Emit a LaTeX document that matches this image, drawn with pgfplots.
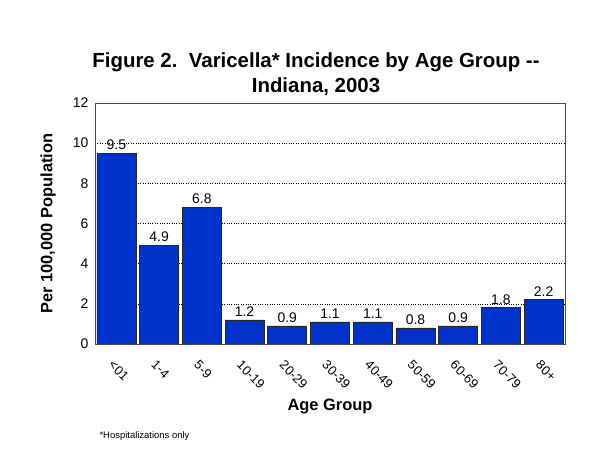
\documentclass[border=0pt]{standalone}
\usepackage{fontspec}
\setmainfont{Liberation Sans}
\usepackage{pgfplots}
\pgfplotsset{compat=1.18}
\definecolor{barblue}{RGB}{0,51,204}
\begin{document}
\begin{tikzpicture}[x=1bp,y=1bp]
\path[use as bounding box, fill=white] (0,0) rectangle (600,450);
\begin{axis}[
  at={(95bp,106bp)}, anchor=south west,
  scale only axis, width=470bp, height=241bp,
  xmin=-0.5, xmax=10.5, ymin=0, ymax=12,
  ytick={0,2,...,12},
  xtick={0,...,10},
  xticklabels={<01,1-4,5-9,10-19,20-29,30-39,40-49,50-59,60-69,70-79,80+},
  xticklabel style={rotate=-45, anchor=north west, font=\fontsize{13}{15}\selectfont, xshift=6bp, yshift=-9bp},
  yticklabel style={font=\fontsize{14}{16}\selectfont, xshift=-3bp},
  /pgf/number format/assume math mode=true,
  major tick length=0pt,
  ymajorgrids, grid style={black, dotted, line width=0.6pt},
  axis line style={black!70, line width=0.8pt},
  ybar, bar width=39bp, bar shift=0pt,
  nodes near coords,
  nodes near coords style={font=\fontsize{14}{16}\selectfont, black, /pgf/number format/fixed, /pgf/number format/fixed zerofill, /pgf/number format/precision=1},
  ylabel={\bfseries Per 100,000 Population},
  every axis y label/.style={at={(axis description cs:0,0.5)}, xshift=-47bp, rotate=90, anchor=center, font=\fontsize{16.5}{19}\selectfont},
  xlabel={\bfseries Age Group},
  every axis x label/.style={at={(axis description cs:0.5,0)}, anchor=center, yshift=-63bp, font=\fontsize{16.5}{19}\selectfont},
]
\addplot[fill=barblue, draw=black!85, line width=0.7pt] coordinates {
(0,9.5) (1,4.9) (2,6.8) (3,1.2) (4,0.9) (5,1.1) (6,1.1) (7,0.8) (8,0.9) (9,1.8) (10,2.2)};
\end{axis}
\node[font=\fontsize{20.5}{25}\selectfont\bfseries, align=center] at (316,376) {Figure 2.\ \ Varicella* Incidence by Age Group -{}-\\Indiana, 2003};
\node[font=\fontsize{9.5}{11}\selectfont, anchor=west] at (96,14) {*Hospitalizations only};
\end{tikzpicture}
\end{document}
